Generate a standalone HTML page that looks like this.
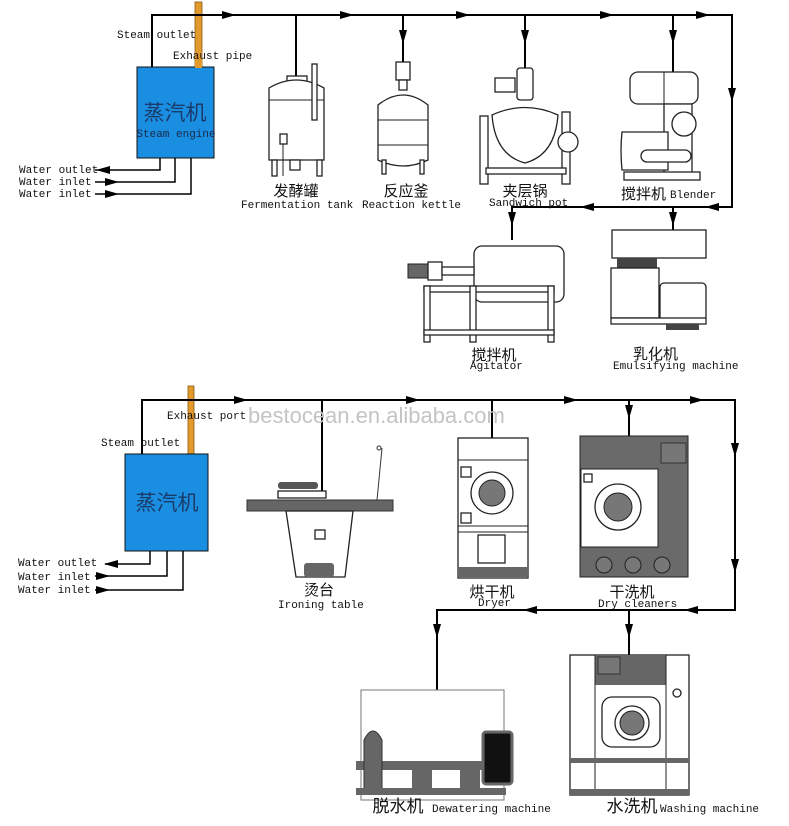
<!DOCTYPE html>
<html><head><meta charset="utf-8"><style>
html,body{margin:0;padding:0;background:#fff}
svg{display:block}
.t{font-family:"Liberation Mono","DejaVu Sans Mono",monospace;font-size:11px;fill:#111}
.c{font-family:"Liberation Sans","Noto Sans CJK SC",sans-serif;font-size:15px;fill:#111}
.l{stroke:#000;stroke-width:2;fill:none}
.m{stroke:#222;stroke-width:1.3;fill:#fff}
.g{fill:#666;stroke:#222;stroke-width:1}
</style></head><body>
<svg width="789" height="826" viewBox="0 0 789 826" xmlns="http://www.w3.org/2000/svg">
<!-- TOP SECTION -->
<rect x="195" y="2" width="7" height="66" fill="#e39a2d" stroke="#8a5a10" stroke-width="0.8"/>
<polyline class="l" points="152,67 152,15 732,15 732,207 512,207 512,240"/>
<line class="l" x1="296" y1="15" x2="296" y2="80"/>
<line class="l" x1="403" y1="15" x2="403" y2="62"/>
<line class="l" x1="525" y1="15" x2="525" y2="68"/>
<line class="l" x1="673" y1="15" x2="673" y2="72"/>
<line class="l" x1="673" y1="207" x2="673" y2="230"/>
<g fill="#000">
<polygon points="222,11 236,15 222,19"/><polygon points="340,11 354,15 340,19"/>
<polygon points="456,11 470,15 456,19"/><polygon points="600,11 614,15 600,19"/><polygon points="696,11 710,15 696,19"/>
<polygon points="399,30 407,30 403,44"/><polygon points="521,30 529,30 525,44"/><polygon points="669,30 677,30 673,44"/>
<polygon points="728,88 736,88 732,102"/>
<polygon points="594,203 580,207 594,211"/><polygon points="719,203 705,207 719,211"/>
<polygon points="508,212 516,212 512,226"/><polygon points="669,212 677,212 673,226"/>
</g>
<rect x="137" y="67" width="77" height="91" fill="#1a8ee0" stroke="#111" stroke-width="1"/>
<text x="175" y="120" class="c" text-anchor="middle" style="font-size:21px;fill:#1a3a6a">蒸汽机</text>
<text x="176" y="137" class="t" text-anchor="middle" style="font-size:11px;fill:#1a2a4a">Steam engine</text>
<rect x="195" y="52" width="7" height="16" fill="#e39a2d"/>
<text x="117" y="38" class="t">Steam outlet</text>
<text x="173" y="59" class="t">Exhaust pipe</text>
<polyline class="l" style="stroke-width:1.5" points="160,158 160,170 95,170"/>
<polyline class="l" style="stroke-width:1.5" points="175,158 175,182 95,182"/>
<polyline class="l" style="stroke-width:1.5" points="191,158 191,194 95,194"/>
<g fill="#000"><polygon points="110,166 96,170 110,174"/><polygon points="105,178 119,182 105,186"/><polygon points="105,190 119,194 105,198"/></g>
<text x="19" y="173" class="t">Water outlet</text>
<text x="19" y="185" class="t">Water inlet</text>
<text x="19" y="197" class="t">Water inlet</text>

<!-- fermentation tank -->
<rect x="287" y="76" width="20" height="6" class="m"/>
<path d="M269,88 Q296,72 324,88 L324,160 L269,160 Z" class="m"/>
<line x1="269" y1="100" x2="324" y2="100" stroke="#222"/>
<rect x="312" y="64" width="5" height="56" class="m"/>
<rect x="280" y="134" width="7" height="10" class="m"/><line x1="283" y1="144" x2="283" y2="176" stroke="#222"/>
<rect x="272" y="160" width="5" height="16" class="m"/><rect x="317" y="160" width="5" height="16" class="m"/>
<rect x="290" y="160" width="10" height="10" class="m"/>
<text x="296" y="196" class="c" text-anchor="middle">发酵罐</text>
<text x="241" y="208" class="t">Fermentation tank</text>
<!-- reaction kettle -->
<rect x="396" y="62" width="14" height="18" class="m"/><rect x="399" y="80" width="8" height="10" class="m"/>
<path d="M378,105 Q403,85 428,105 L428,160 Q403,172 378,160 Z" class="m"/>
<line x1="378" y1="120" x2="428" y2="120" stroke="#222"/><line x1="378" y1="145" x2="428" y2="145" stroke="#222"/>
<rect x="382" y="160" width="4" height="14" class="m"/><rect x="420" y="160" width="4" height="14" class="m"/>
<text x="406" y="196" class="c" text-anchor="middle">反应釜</text>
<text x="362" y="208" class="t">Reaction kettle</text>
<!-- sandwich pot -->
<rect x="517" y="68" width="16" height="32" rx="3" class="m"/>
<rect x="495" y="78" width="20" height="14" class="m"/>
<path d="M492,115 Q525,100 558,115 Q555,155 525,163 Q495,155 492,115 Z" class="m"/>
<rect x="480" y="116" width="8" height="68" class="m"/><rect x="562" y="112" width="8" height="72" class="m"/>
<rect x="486" y="168" width="80" height="6" class="m"/>
<circle cx="568" cy="142" r="10" class="m"/>
<text x="525" y="196" class="c" text-anchor="middle">夹层锅</text>
<text x="489" y="206" class="t">Sandwich pot</text>
<!-- blender -->
<rect x="630" y="72" width="68" height="32" rx="8" class="m"/>
<line x1="664" y1="72" x2="664" y2="104" stroke="#222"/>
<path d="M664,104 L692,104 L692,175 L664,175 Z" class="m"/>
<circle cx="684" cy="124" r="12" class="m"/>
<path d="M622,132 L668,132 L668,170 L622,170 Q620,150 622,132 Z" class="m"/>
<rect x="641" y="150" width="50" height="12" rx="6" class="m"/>
<rect x="624" y="172" width="76" height="8" class="m"/>
<text x="621" y="199" class="c">搅拌机</text>
<text x="670" y="198" class="t">Blender</text>
<!-- agitator -->
<rect x="474" y="246" width="90" height="56" rx="8" class="m"/>
<rect x="408" y="264" width="20" height="14" class="g"/><rect x="428" y="262" width="14" height="18" class="m"/>
<rect x="442" y="267" width="32" height="8" class="m"/>
<rect x="424" y="286" width="130" height="6" class="m"/>
<rect x="424" y="286" width="6" height="56" class="m"/><rect x="470" y="286" width="6" height="56" class="m"/><rect x="548" y="286" width="6" height="56" class="m"/>
<rect x="424" y="330" width="130" height="5" class="m"/>
<text x="494" y="360" class="c" text-anchor="middle">搅拌机</text>
<text x="470" y="369" class="t">Agitator</text>
<!-- emulsifier -->
<rect x="612" y="230" width="94" height="28" class="m"/>
<rect x="617" y="258" width="40" height="10" fill="#444"/>
<rect x="611" y="268" width="48" height="50" class="m"/>
<rect x="660" y="283" width="46" height="38" rx="4" class="m"/>
<rect x="611" y="318" width="95" height="6" class="m"/>
<rect x="666" y="324" width="33" height="6" fill="#444"/>
<text x="633" y="359" class="c">乳化机</text>
<text x="613" y="369" class="t">Emulsifying machine</text>

<!-- BOTTOM SECTION -->
<rect x="188" y="386" width="6" height="69" fill="#e39a2d" stroke="#8a5a10" stroke-width="0.8"/>
<polyline class="l" points="142,454 142,400 735,400 735,610 437,610 437,690"/>
<line class="l" x1="322" y1="400" x2="322" y2="493"/>
<line class="l" x1="492" y1="400" x2="492" y2="438"/>
<line class="l" x1="629" y1="400" x2="629" y2="436"/>
<line class="l" x1="629" y1="610" x2="629" y2="655"/>
<g fill="#000">
<polygon points="234,396 248,400 234,404"/><polygon points="406,396 420,400 406,404"/>
<polygon points="564,396 578,400 564,404"/><polygon points="690,396 704,400 690,404"/>
<polygon points="625,405 633,405 629,419"/>
<polygon points="731,443 739,443 735,457"/><polygon points="731,559 739,559 735,573"/>
<polygon points="537,606 523,610 537,614"/><polygon points="698,606 684,610 698,614"/>
<polygon points="433,624 441,624 437,638"/><polygon points="625,624 633,624 629,638"/>
</g>
<text x="248" y="423" style="font-family:'Liberation Sans',sans-serif;font-size:22px;fill:#c4c4c4">bestocean.en.alibaba.com</text>
<rect x="125" y="454" width="83" height="97" fill="#1a8ee0" stroke="#111" stroke-width="1"/>
<text x="167" y="510" class="c" text-anchor="middle" style="font-size:21px;fill:#1a3a6a">蒸汽机</text>
<text x="167" y="419" class="t">Exhaust port</text>
<text x="101" y="446" class="t">Steam outlet</text>
<polyline class="l" style="stroke-width:1.5" points="150,551 150,564 105,564"/>
<polyline class="l" style="stroke-width:1.5" points="167,551 167,576 95,576"/>
<polyline class="l" style="stroke-width:1.5" points="183,551 183,590 95,590"/>
<g fill="#000"><polygon points="118,560 104,564 118,568"/><polygon points="96,572 110,576 96,580"/><polygon points="96,586 110,590 96,594"/></g>
<text x="18" y="566" class="t">Water outlet</text>
<text x="18" y="580" class="t">Water inlet</text>
<text x="18" y="593" class="t">Water inlet</text>
<!-- ironing table -->
<rect x="278" y="482" width="40" height="7" rx="3" fill="#555"/>
<rect x="278" y="491" width="48" height="7" class="m"/>
<rect x="247" y="500" width="146" height="11" fill="#666" stroke="#333"/>
<polyline points="377,500 382,448" stroke="#333" fill="none"/><circle cx="379" cy="448" r="2" fill="none" stroke="#333"/>
<path d="M286,511 L353,511 L345,577 L296,577 Z" class="m"/>
<rect x="315" y="530" width="10" height="9" class="m"/>
<rect x="304" y="563" width="30" height="14" rx="3" fill="#666"/>
<text x="319" y="595" class="c" text-anchor="middle">烫台</text>
<text x="278" y="608" class="t">Ironing table</text>
<!-- dryer -->
<rect x="458" y="438" width="70" height="140" class="m"/>
<line x1="458" y1="460" x2="528" y2="460" stroke="#222"/>
<line x1="458" y1="526" x2="528" y2="526" stroke="#222"/>
<line x1="458" y1="532" x2="528" y2="532" stroke="#222"/>
<circle cx="492" cy="493" r="21" class="m"/><circle cx="492" cy="493" r="13" fill="#777" stroke="#222"/>
<rect x="461" y="467" width="10" height="10" class="m"/><rect x="461" y="513" width="10" height="10" class="m"/>
<rect x="478" y="535" width="27" height="28" class="m"/>
<rect x="458" y="567" width="70" height="10" fill="#666"/>
<text x="492" y="597" class="c" text-anchor="middle">烘干机</text>
<text x="478" y="606" class="t">Dryer</text>
<!-- dry cleaner -->
<rect x="580" y="436" width="108" height="141" fill="#6a6a6a" stroke="#222"/>
<rect x="581" y="469" width="77" height="78" fill="#fff" stroke="#222"/>
<rect x="661" y="443" width="25" height="20" fill="#777" stroke="#333"/>
<circle cx="618" cy="507" r="23" class="m"/><circle cx="618" cy="507" r="14" fill="#777" stroke="#222"/>
<rect x="584" y="474" width="8" height="8" class="m"/>
<circle cx="604" cy="565" r="8" fill="#777" stroke="#222"/><circle cx="633" cy="565" r="8" fill="#777" stroke="#222"/><circle cx="662" cy="565" r="8" fill="#777" stroke="#222"/>
<text x="632" y="597" class="c" text-anchor="middle">干洗机</text>
<text x="598" y="607" class="t">Dry cleaners</text>
<!-- dewatering -->
<rect x="361" y="690" width="143" height="110" fill="none" stroke="#777"/>
<rect x="356" y="761" width="148" height="9" fill="#666"/>
<path d="M364,789 L364,740 Q373,722 382,740 L382,789 Z" fill="#666" stroke="#333"/>
<rect x="412" y="770" width="20" height="18" fill="#666"/><rect x="460" y="770" width="20" height="18" fill="#666"/>
<rect x="356" y="788" width="150" height="7" fill="#666"/>
<rect x="483" y="732" width="29" height="52" rx="3" fill="#111" stroke="#666" stroke-width="3"/>
<text x="398" y="812" class="c" style="font-size:17px" text-anchor="middle">脱水机</text>
<text x="432" y="812" class="t">Dewatering machine</text>
<!-- washing -->
<rect x="570" y="655" width="119" height="140" class="m"/>
<rect x="595" y="655" width="71" height="30" fill="#666"/>
<rect x="598" y="657" width="22" height="17" fill="#777" stroke="#333"/>
<line x1="595" y1="655" x2="595" y2="795" stroke="#222"/><line x1="666" y1="655" x2="666" y2="795" stroke="#222"/>
<rect x="602" y="697" width="58" height="50" rx="10" class="m"/>
<circle cx="632" cy="723" r="17" class="m"/><circle cx="632" cy="723" r="12" fill="#777" stroke="#222"/>
<circle cx="677" cy="693" r="4" class="m"/>
<rect x="570" y="758" width="119" height="5" fill="#666"/>
<rect x="570" y="789" width="119" height="6" fill="#666"/>
<text x="632" y="812" class="c" style="font-size:17px" text-anchor="middle">水洗机</text>
<text x="660" y="812" class="t">Washing machine</text>
</svg>
</body></html>
